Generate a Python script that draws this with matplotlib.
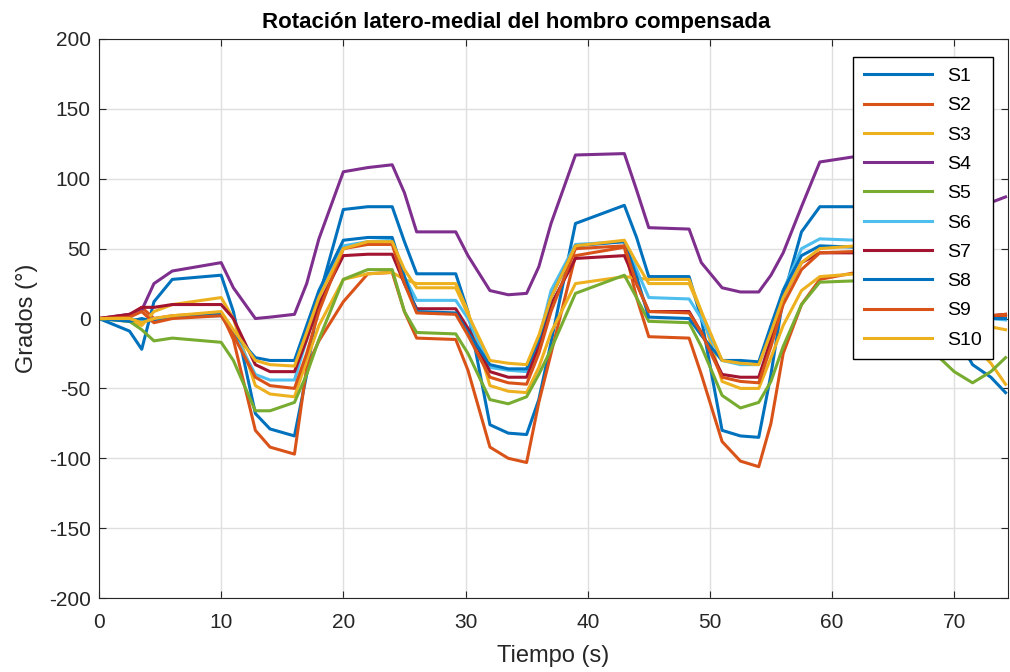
import numpy as np
import matplotlib
matplotlib.use("Agg")
import matplotlib.pyplot as plt

plt.rcParams['font.family'] = ['Liberation Sans', 'DejaVu Sans']
plt.rcParams['axes.unicode_minus'] = False

# tiempos de referencia (s), comunes a todas las series
tiempo = [0, 2.5, 3.5, 4.5, 6, 10,
          11, 12.8, 14, 16,
          17, 18, 20, 22, 24,
          25, 26, 29.2, 30.2,
          32, 33.5, 35, 36,
          37, 39, 43, 44,
          45, 48.3, 49.3, 51,
          52.5, 54, 55, 56,
          57.5, 59, 62, 66,
          70, 71.5, 73, 74.2]

# grados
s1 = [0, -9, -22, 12, 28, 31,
      5, -68, -79, -84,
      -40, 15, 78, 80, 80,
      55, 32, 32, 5,
      -76, -82, -83, -58,
      -17, 68, 81, 58,
      30, 30, 0, -80,
      -84, -85, -40, 15,
      62, 80, 80, 40,
      -10, -33, -42, -53]
s2 = [0, 2, 8, 0, 2, 4,
      -15, -80, -92, -97,
      -35, -16, 12, 32, 33,
      5, -14, -15, -37,
      -92, -100, -103, -60,
      -25, 45, 51, 15,
      -13, -14, -40, -88,
      -102, -106, -75, -25,
      10, 28, 33, 25,
      8, 4, 2, 2]
s3 = [0, -2, -5, 5, 10, 15,
      0, -48, -54, -56,
      -30, -5, 28, 32, 33,
      28, 25, 25, 5,
      -48, -52, -53, -35,
      -10, 25, 30, 29,
      28, 28, 5, -45,
      -50, -50, -28, -5,
      20, 30, 32, 20,
      -5, -18, -32, -47]
s4 = [0, 3, 6, 25, 34, 40,
      22, 0, 1, 3,
      25, 57, 105, 108, 110,
      90, 62, 62, 45,
      20, 17, 18, 37,
      68, 117, 118, 92,
      65, 64, 40, 22,
      19, 19, 31, 47,
      80, 112, 116, 110,
      95, 88, 83, 87]
s5 = [0, -2, -8, -16, -14, -17,
      -30, -66, -66, -60,
      -40, -15, 28, 35, 35,
      5, -10, -11, -25,
      -58, -61, -56, -40,
      -22, 18, 31, 15,
      -2, -3, -20, -55,
      -64, -60, -45, -20,
      10, 26, 27, -5,
      -38, -46, -38, -28]
s6 = [0, 0, -2, 0, 1, 2,
      -10, -40, -44, -44,
      -15, 15, 52, 55, 56,
      30, 13, 13, 0,
      -35, -37, -38, -15,
      20, 53, 55, 35,
      15, 14, 0, -30,
      -33, -33, -10, 20,
      50, 57, 56, 30,
      8, 3, 0, -1]
s7 = [0, 3, 8, 8, 10, 10,
      0, -33, -38, -38,
      -15, 10, 45, 46, 46,
      25, 7, 7, -7,
      -38, -42, -42, -20,
      10, 43, 45, 25,
      5, 5, -10, -40,
      -42, -42, -15, 15,
      40, 47, 47, 30,
      8, 3, 2, 3]
s8 = [0, -2, 0, -2, 1, 3,
      -10, -28, -30, -30,
      -5, 20, 56, 58, 58,
      30, 5, 4, -10,
      -33, -36, -36, -15,
      15, 52, 55, 30,
      1, 0, -12, -30,
      -30, -31, -5, 20,
      45, 52, 51, 40,
      10, 2, 0, 0]
s9 = [0, 1, 5, -3, 0, 2,
      -12, -42, -48, -50,
      -25, 5, 50, 53, 53,
      25, 4, 3, -12,
      -42, -46, -47, -25,
      5, 50, 52, 25,
      5, 4, -10, -42,
      -45, -46, -20, 10,
      35, 47, 48, 30,
      10, 4, 2, 3]
s10 = [0, 0, -3, 0, 2, 5,
       -8, -30, -33, -34,
       -10, 15, 50, 55, 55,
       35, 22, 22, 3,
       -30, -32, -33, -12,
       15, 52, 56, 40,
       25, 25, 5, -30,
       -32, -33, -10, 15,
       40, 50, 52, 30,
       5, -2, -6, -8]

series = [s1, s2, s3, s4, s5, s6, s7, s8, s9, s10]
nombres = ["S1", "S2", "S3", "S4", "S5", "S6", "S7", "S8", "S9", "S10"]

# colores por defecto de MATLAB
colores = ['#0072BD', '#D95319', '#EDB120', '#7E2F8E', '#77AC30', '#4DBEEE', '#A2142F']

fig = plt.figure(figsize=(10.1, 6.72), dpi=100)
ax = fig.add_axes([0.098, 0.110, 0.900, 0.832])

for i, (s, nombre) in enumerate(zip(series, nombres)):
    ax.plot(tiempo, s, color=colores[i % len(colores)], linewidth=2.2, label=nombre)

ax.set_xlim(0, 74.4)
ax.set_ylim(-200, 200)
ax.set_xticks(np.arange(0, 71, 10))
ax.set_yticks(np.arange(-200, 201, 50))
ax.grid(True, color='#dfdfdf', linewidth=1.0)
ax.set_axisbelow(True)
ax.tick_params(direction='in', top=True, right=True, labelsize=15, colors='#262626', length=5)
ax.tick_params(axis='x', pad=11)
ax.tick_params(axis='y', pad=6)
for sp in ax.spines.values():
    sp.set_color('#262626')

ax.set_title("Rotación latero-medial del hombro compensada", fontsize=16, fontweight='bold',
             pad=8, x=0.459)
ax.set_xlabel("Tiempo (s)", fontsize=17, color='#262626', labelpad=9)
ax.set_ylabel("Grados (°)", fontsize=17, color='#262626', labelpad=8)

leg = ax.legend(loc='upper right', bbox_to_anchor=(0.9835, 0.968), borderaxespad=0,
                fontsize=14, handlelength=3.5, labelspacing=0.6, borderpad=0.55,
                fancybox=False, framealpha=1, edgecolor='black')
leg.get_frame().set_linewidth(1.0)

fig.savefig("out.png", dpi=100)
